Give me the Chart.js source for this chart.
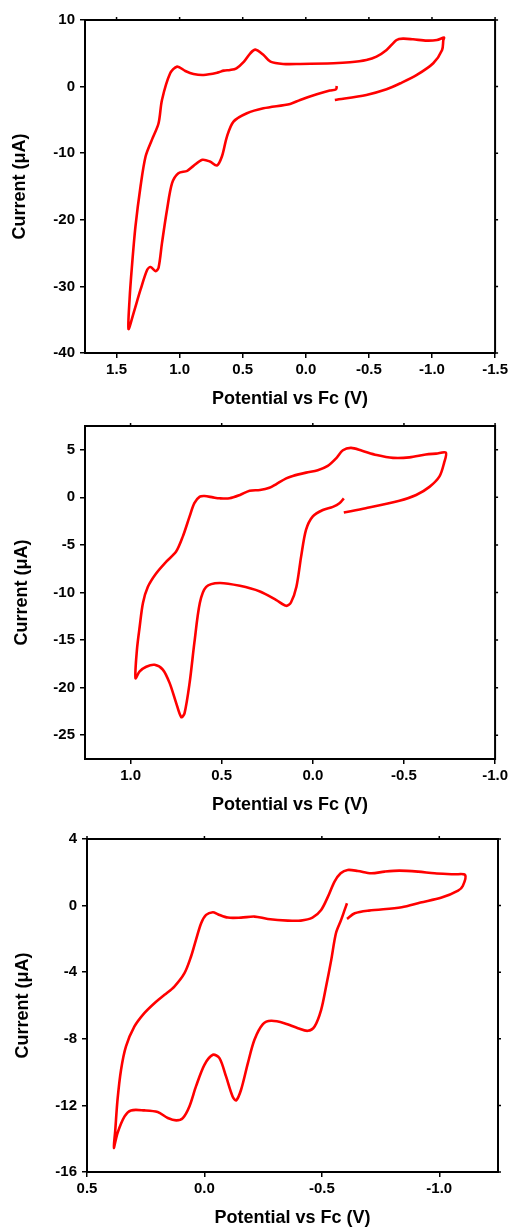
<!DOCTYPE html>
<html>
<head>
<meta charset="utf-8">
<script src="https://cdn.jsdelivr.net/npm/chart.js@4"></script>
<style>
  body { margin: 0; background: #fff; }
  .cv { position: absolute; left: 0; }
</style>
</head>
<body>
<div class="cv" style="top:0"><canvas id="cv1" width="511" height="410"></canvas></div>
<div class="cv" style="top:410px"><canvas id="cv2" width="511" height="410"></canvas></div>
<div class="cv" style="top:820px"><canvas id="cv3" width="511" height="411"></canvas></div>
<script>
// potential (V vs Fc) and current (uA)
let pot1 = [-0.23, -0.48, -0.64, -0.75, -0.88, -1.01, -1.08, -1.09, -1.095,
  -1.04, -0.96, -0.85, -0.77, -0.72, -0.64, -0.56, -0.48, -0.35, -0.22, 0.045, 0.18, 0.28, 0.335, 0.40, 0.44, 0.49,
  0.55, 0.60, 0.65, 0.70, 0.81, 0.89, 0.955, 1.02, 1.075, 1.14, 1.167, 1.22, 1.27, 1.31, 1.35, 1.378, 1.397, 1.405,
  1.365, 1.31, 1.257, 1.23, 1.19, 1.167, 1.14, 1.10, 1.06, 1.01, 0.94, 0.89, 0.82, 0.76, 0.705, 0.665, 0.625, 0.573,
  0.467, 0.336, 0.124, 0.045, -0.087, -0.19, -0.24, -0.245];
let cur1 = [-2.0, -1.25, -0.4, 0.5, 1.75, 3.5, 5.5, 7.0, 7.35,
  7.0, 6.9, 7.1, 7.2, 7.0, 5.5, 4.5, 4.0, 3.65, 3.5, 3.4, 3.4, 3.75, 4.75, 5.55, 5.0, 3.75,
  2.75, 2.5, 2.4, 2.1, 1.75, 1.9, 2.35, 3.0, 2.0, -2.0, -5.5, -8.0, -10.5, -15, -21, -27, -32, -36.4,
  -34, -30.5, -27.5, -27.1, -27.7, -27.2, -23.5, -18.5, -14.5, -13.0, -12.65, -11.9, -11.0, -11.25, -11.85, -10.5, -7.5, -5.25,
  -4.0, -3.25, -2.6, -2.0, -1.15, -0.6, -0.4, 0.1];

let pot2 = [-0.17, -0.29, -0.475, -0.567, -0.64, -0.695, -0.72, -0.73,
  -0.676, -0.62, -0.53, -0.44, -0.35, -0.27, -0.21, -0.165, -0.128, -0.082, -0.027, 0.037, 0.11, 0.146, 0.20, 0.238,
  0.29, 0.347, 0.40, 0.457, 0.512, 0.548, 0.594, 0.62, 0.65, 0.676, 0.713, 0.75, 0.804, 0.86, 0.905, 0.932, 0.95, 0.965, 0.973,
  0.95, 0.914, 0.868, 0.823, 0.786, 0.75, 0.722, 0.704, 0.676, 0.65, 0.62, 0.585, 0.512, 0.40, 0.29, 0.20, 0.146,
  0.12, 0.09, 0.064, 0.037, 0.0, -0.055, -0.11, -0.146, -0.17];
let cur2 = [-1.6, -1.15, -0.35, 0.25, 1.1, 2.2, 3.6, 4.7,
  4.6, 4.5, 4.2, 4.15, 4.45, 4.9, 5.2, 4.95, 4.1, 3.3, 2.85, 2.6, 2.25, 2.0, 1.4, 1.0,
  0.77, 0.7, 0.25, -0.1, -0.1, 0.0, 0.14, 0.07, -0.6, -2.0, -4.1, -5.7, -6.75, -8.0, -9.4, -11.1, -13.6, -16.0, -19.0,
  -18.3, -17.8, -17.6, -18.1, -19.5, -21.6, -23.1, -22.7, -19.5, -15.3, -11.1, -9.4, -9.0, -9.3, -9.9, -10.8, -11.4,
  -11.05, -9.4, -6.2, -3.4, -2.0, -1.33, -1.0, -0.63, -0.1];

let pot3 = [-0.607, -0.64, -0.70, -0.84, -0.92, -1.01, -1.08, -1.10, -1.11,
  -1.065, -0.98, -0.91, -0.83, -0.767, -0.71, -0.653, -0.61, -0.58, -0.554, -0.526, -0.497, -0.46, -0.41, -0.355,
  -0.27, -0.213, -0.156, -0.1, -0.057, -0.036, -0.007, 0.014, 0.036, 0.057, 0.085, 0.128, 0.17, 0.213, 0.256, 0.298,
  0.334, 0.355, 0.37, 0.38, 0.386,
  0.37, 0.34, 0.3125, 0.256, 0.199, 0.156, 0.12, 0.092, 0.064, 0.036, 0.0, -0.036, -0.064, -0.092, -0.12, -0.135,
  -0.156, -0.185, -0.213, -0.249, -0.284, -0.34, -0.398, -0.44, -0.469, -0.497, -0.518, -0.54, -0.56, -0.582, -0.597, -0.607];
let cur3 = [-0.8, -0.46, -0.3, -0.1, 0.18, 0.48, 0.9, 1.18, 1.84,
  1.88, 1.94, 2.04, 2.1, 2.04, 1.94, 2.08, 2.14, 1.94, 1.44, 0.54, -0.26, -0.72, -0.9, -0.9,
  -0.8, -0.66, -0.72, -0.72, -0.52, -0.4, -0.56, -1.06, -2.06, -3.06, -4.06, -4.86, -5.36, -5.86, -6.46, -7.26,
  -8.46, -9.86, -11.66, -13.56, -14.56,
  -13.66, -12.66, -12.3, -12.3, -12.4, -12.76, -12.9, -12.76, -12.06, -10.86, -9.56, -8.96, -9.16, -10.26, -11.46, -11.7,
  -11.06, -9.46, -8.06, -7.12, -6.92, -7.06, -7.36, -7.52, -7.26, -6.26, -4.86, -3.26, -1.66, -0.86, -0.26, 0.14];

// axis ranges and tick labels
let xRange1 = [-1.5, 1.75];
let yRange1 = [-40, 10];
let xTicks1 = [1.5, 1.0, 0.5, 0.0, -0.5, -1.0, -1.5];
let yTicks1 = [10, 0, -10, -20, -30, -40];

let xRange2 = [-1.0, 1.25];
let yRange2 = [-27.5, 7.5];
let xTicks2 = [1.0, 0.5, 0.0, -0.5, -1.0];
let yTicks2 = [5, 0, -5, -10, -15, -20, -25];

let xRange3 = [-1.25, 0.5];
let yRange3 = [-16, 4];
let xTicks3 = [0.5, 0.0, -0.5, -1.0];
let yTicks3 = [4, 0, -4, -8, -12, -16];

const FONT = "'Liberation Sans', Arial, sans-serif";

// closed box + small ticks on top and right side
const framePlugin = {
  id: 'frame',
  afterDatasetsDraw(chart) {
    const {ctx, chartArea: a, scales: {x, y}} = chart;
    ctx.save();
    ctx.strokeStyle = '#000';
    ctx.lineWidth = 2;
    ctx.strokeRect(a.left, a.top, a.right - a.left, a.bottom - a.top);
    ctx.lineWidth = 1.5;
    ctx.beginPath();
    x.ticks.forEach(t => {
      const px = x.getPixelForValue(t.value);
      ctx.moveTo(px, a.top); ctx.lineTo(px, a.top - 3);
    });
    y.ticks.forEach(t => {
      const py = y.getPixelForValue(t.value);
      ctx.moveTo(a.right, py); ctx.lineTo(a.right + 3, py);
    });
    ctx.stroke();
    ctx.restore();
  }
};

function cvChart(id, pot, cur, xr, yr, xt, yt, box)
{
  let pts = pot.map((v, i) => ({x: v, y: cur[i]}));
  let ctx = document.getElementById(id).getContext('2d');

  return new Chart(ctx, {
    type: 'scatter',
    data: {
      datasets: [{
        data: pts,
        showLine: true,
        borderColor: '#ff0000',
        borderWidth: 2.6,
        pointRadius: 0,
        tension: 0.3,
        fill: false
      }]
    },
    options: {
      responsive: false,
      animation: false,
      layout: {padding: {top: box.top, right: box.w - box.right, left: 0, bottom: 0}},
      plugins: {legend: {display: false}, tooltip: {enabled: false}},
      scales: {
        x: {
          type: 'linear', reverse: true, min: xr[0], max: xr[1],
          afterBuildTicks: s => { s.ticks = xt.map(v => ({value: v})); },
          afterFit: s => { s.height = box.h - box.bottom; },
          border: {color: '#000', width: 2},
          grid: {drawOnChartArea: false, drawTicks: true, tickLength: 5, color: '#000', lineWidth: 1.5},
          ticks: {color: '#000', padding: 3, maxRotation: 0, font: {family: FONT, size: 15, weight: 'bold'},
                  callback: v => v.toFixed(1)},
          title: {display: true, text: 'Potential vs Fc (V)', color: '#000', padding: {top: 0, bottom: box.xtPad},
                  font: {family: FONT, size: 18, weight: 'bold', lineHeight: 1.2}}
        },
        y: {
          type: 'linear', min: yr[0], max: yr[1],
          afterBuildTicks: s => { s.ticks = yt.map(v => ({value: v})); },
          afterFit: s => { s.width = box.left; },
          border: {color: '#000', width: 2},
          grid: {drawOnChartArea: false, drawTicks: true, tickLength: 5, color: '#000', lineWidth: 1.5},
          ticks: {color: '#000', padding: 5, font: {family: FONT, size: 15, weight: 'bold'},
                  callback: v => String(v)},
          title: {display: true, text: 'Current (μA)', color: '#000', padding: {top: box.ytPad, bottom: 0},
                  font: {family: FONT, size: 18, weight: 'bold', lineHeight: 1.2}}
        }
      }
    },
    plugins: [framePlugin]
  });
}

cvChart('cv1', pot1, cur1, xRange1, yRange1, xTicks1, yTicks1,
  {w: 511, h: 410, left: 85, right: 496, top: 20, bottom: 353, xtPad: 0, ytPad: 9});
cvChart('cv2', pot2, cur2, xRange2, yRange2, xTicks2, yTicks2,
  {w: 511, h: 410, left: 85, right: 497, top: 16, bottom: 349, xtPad: 4, ytPad: 11});
cvChart('cv3', pot3, cur3, xRange3, yRange3, xTicks3, yTicks3,
  {w: 511, h: 411, left: 87, right: 498, top: 19, bottom: 352, xtPad: 2, ytPad: 12});
</script>
</body>
</html>
